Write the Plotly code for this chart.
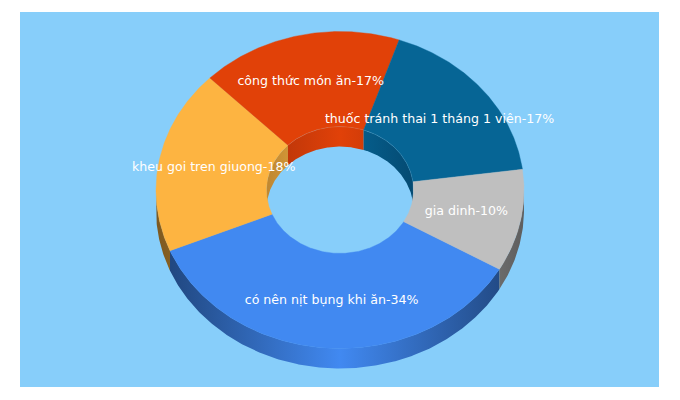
import numpy as np
import plotly.graph_objects as go

labels = ["có nên nịt bụng khi ăn", "kheu goi tren giuong", "công thức món ăn",
          "thuốc tránh thai 1 tháng 1 viên", "gia dinh"]
values = [34, 18, 17, 17, 10]
top_colors = ["#4189F1", "#FDB441", "#E14108", "#066595", "#BFBFBF"]
outer_dark = ["#1E4277", "#7C5820", "#6E2004", "#033049", "#5E5E5E"]
inner_dark = ["#30679F", "#BE8731", "#B5340A", "#044A72", "#8F8F8F"]
edge_alpha = [0, 0, 0.16, 0.16, 0]

START_CLOCK = 120.0
CX, CY, RX, RY = 340.0, 190.0, 184.0, 158.5
HOLE = 0.4
DEPTH = 20.0
LABEL_R = 0.7
BG = "#87CEFA"

total = sum(values)
fig = go.Figure()


def pt(clock_deg, f, dy=0.0):
    t = np.radians(clock_deg)
    return CX + f * RX * np.sin(t), CY - f * RY * np.cos(t) + dy


def arc(a, b, n=None):
    n = n or max(2, int(abs(b - a)) * 2 + 2)
    return np.linspace(a, b, n)


def add_wall(a, b, f, top, dark):
    ts = arc(a, b)
    x1, y1 = pt(ts, f)
    x2, y2 = pt(ts[::-1], f, DEPTH)
    fig.add_trace(go.Scatter(
        x=np.r_[x1, x2, x1[0]], y=np.r_[y1, y2, y1[0]],
        mode="lines", line=dict(width=0), fill="toself", hoverinfo="skip",
        fillgradient=dict(type="horizontal", start=CX - f * RX, stop=CX + f * RX,
                          colorscale=[[0, dark], [0.5, top], [1, dark]]),
    ))


slices = []
cur = START_CLOCK
for v in values:
    span = v / total * 360.0
    slices.append((cur, cur + span))
    cur += span

# outer walls: only the near half (clock 90..270) shows
for (a, b), c, d in zip(slices, top_colors, outer_dark):
    for k in (0, 360):
        lo, hi = max(a, 90 + k), min(b, 270 + k)
        if hi > lo:
            add_wall(lo, hi, 1.0, c, d)

# inner walls: only the far half shows through the hole
for (a, b), c, d in zip(slices, top_colors, inner_dark):
    for k in (0, 360):
        lo, hi = max(a, -90 + k), min(b, 90 + k)
        if hi > lo:
            add_wall(lo, hi, HOLE, c, d)

# top faces
for (a, b), c in zip(slices, top_colors):
    ts = arc(a, b)
    x1, y1 = pt(ts, 1.0)
    x2, y2 = pt(ts[::-1], HOLE)
    fig.add_trace(go.Scatter(
        x=np.r_[x1, x2, x1[0]], y=np.r_[y1, y2, y1[0]],
        mode="lines", line=dict(width=0.4, color=c), fill="toself", fillcolor=c,
        hoverinfo="skip",
    ))

# faint highlight along the far rim of the hole
for (a, b), alpha in zip(slices, edge_alpha):
    if alpha:
        for k in (0, 360):
            lo, hi = max(a, -90 + k), min(b, 90 + k)
            if hi > lo:
                x, y = pt(arc(lo, hi), HOLE)
                fig.add_trace(go.Scatter(
                    x=x, y=y, mode="lines", hoverinfo="skip",
                    line=dict(width=0.7, color=f"rgba(255,255,255,{alpha})"),
                ))

# labels
for (a, b), name, v in zip(slices, labels, values):
    x, y = pt((a + b) / 2, LABEL_R)
    fig.add_trace(go.Scatter(
        x=[x], y=[y], mode="text", text=[f"{name}-{v}%"],
        textposition="middle center", hoverinfo="skip",
        textfont=dict(family="DejaVu Sans", size=12.6, color="#FFFFFF"),
    ))

fig.update_layout(
    width=680, height=400, margin=dict(l=0, r=0, t=0, b=0),
    paper_bgcolor="#FFFFFF", plot_bgcolor="#FFFFFF", showlegend=False,
    xaxis=dict(range=[0, 680], visible=False, fixedrange=True),
    yaxis=dict(range=[400, 0], visible=False, fixedrange=True),
    shapes=[dict(type="rect", xref="x", yref="y", x0=20, x1=659, y0=12, y1=387,
                 fillcolor=BG, line_width=0, layer="below")],
)
fig.write_html("out.html", config={"displayModeBar": False},
               post_script="document.body.style.margin='0';")
